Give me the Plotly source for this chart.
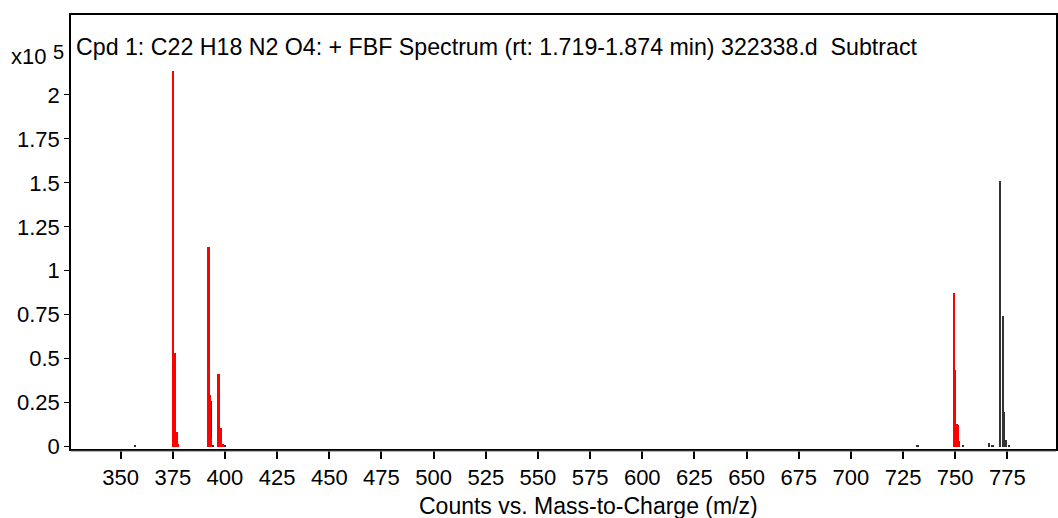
import plotly.graph_objects as go

# ---- data (m/z, counts) ----
red_mz = [375.2, 376.0, 376.9, 377.3, 377.8,
          392.2, 392.8, 393.6, 397.0, 397.8, 398.3, 398.9,
          749.4, 750.1, 750.9, 751.4, 752.0]
red_int = [213700, 53500, 8500, 8000, 1500,
           113800, 29500, 5500, 41200, 10800, 10500, 1500,
           87600, 43700, 12900, 12500, 3000]

black_mz = [357.2, 393.4, 394.2, 399.9, 731.8, 732.3, 753.6, 766.4, 767.6, 768.3,
            771.5, 772.8, 773.6, 774.4, 776.0]
black_int = [1000, 26000, 1000, 1000, 700, 700, 800, 2000, 800, 800,
             150900, 74300, 19500, 4000, 1000]

x_ticks = list(range(350, 776, 25))
y_ticks = [0, 25000, 50000, 75000, 100000, 125000, 150000, 175000, 200000]
y_labels = ["0", "0.25", "0.5", "0.75", "1", "1.25", "1.5", "1.75", "2"]

title_text = "Cpd 1: C22 H18 N2 O4: + FBF Spectrum (rt: 1.719-1.874 min) 322338.d  Subtract"
x_title = "Counts vs. Mass-to-Charge (m/z)"

FONT = "Liberation Sans, Arial, sans-serif"

fig = go.Figure()
fig.add_trace(go.Bar(x=black_mz, y=black_int, width=0.7,
                     marker=dict(color="#333333", line=dict(width=0)), showlegend=False))
fig.add_trace(go.Bar(x=red_mz, y=red_int, width=0.8,
                     marker=dict(color="#ff0000", line=dict(width=0)), showlegend=False))

fig.update_layout(
    width=1058, height=518,
    margin=dict(l=71, r=2, t=15, b=69, autoexpand=False),
    plot_bgcolor="white", paper_bgcolor="white",
    barmode="overlay", bargap=0,
    font=dict(family=FONT, size=20, color="black"),
    xaxis=dict(range=[326.2, 798.3], tickvals=x_ticks, ticktext=[str(v) for v in x_ticks],
               ticks="outside", ticklen=8, tickwidth=1.5, tickcolor="black",
               showline=True, linecolor="black", linewidth=1.5, mirror=True,
               showgrid=False, zeroline=False, automargin=False,
               tickfont=dict(family=FONT, size=22)),
    yaxis=dict(range=[-1300, 245400], tickvals=y_ticks, ticktext=y_labels,
               ticks="outside", ticklen=5, tickwidth=1, tickcolor="black",
               showline=True, linecolor="black", linewidth=1.5, mirror=True,
               showgrid=False, zeroline=False, automargin=False,
               tickfont=dict(family=FONT, size=22)),
    annotations=[
        dict(text=title_text, xref="paper", yref="paper", x=0.003, y=0.927,
             xanchor="left", yanchor="middle", showarrow=False,
             font=dict(family=FONT, size=23.2)),
        dict(text=x_title, xref="paper", yref="paper", x=0.525, y=-0.131,
             xanchor="center", yanchor="middle", showarrow=False,
             font=dict(family=FONT, size=23)),
        dict(text="x10", xref="paper", yref="paper", x=-0.023, y=0.905,
             xanchor="right", yanchor="middle", showarrow=False,
             font=dict(family=FONT, size=22)),
        dict(text="5", xref="paper", yref="paper", x=-0.005, y=0.915,
             xanchor="right", yanchor="middle", showarrow=False,
             font=dict(family=FONT, size=20)),
    ],
    shapes=[dict(type="line", xref="paper", yref="paper", x0=0, x1=1, y0=-0.005, y1=-0.005,
                 line=dict(color="#888888", width=1))],
)

fig.write_html("out.html", config={"displayModeBar": False},
               post_script="document.body.style.margin='0';document.body.style.padding='0';")
